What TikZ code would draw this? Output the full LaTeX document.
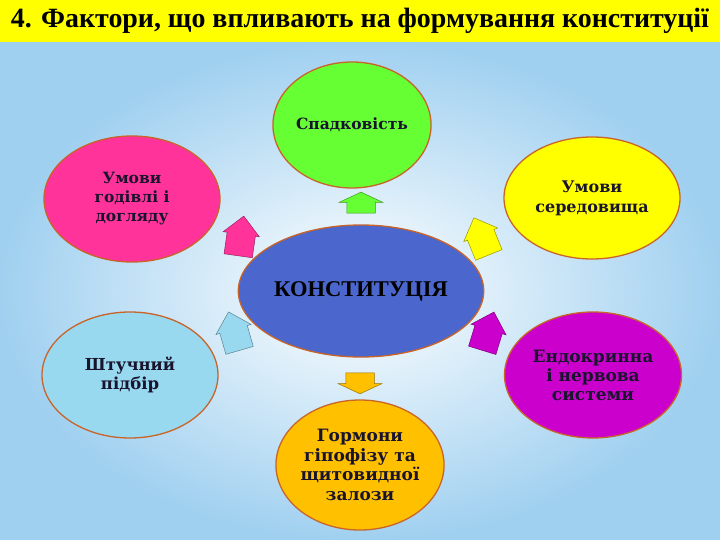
\documentclass[tikz,border=0pt]{standalone}
\usepackage{fontspec}
\setmainfont{Liberation Serif}
\newfontfamily\djv{DejaVu Serif}
\usetikzlibrary{shapes,shapes.arrows,shapes.geometric}
\definecolor{bgblue}{RGB}{160,208,240}
\definecolor{titleyel}{RGB}{255,255,0}
\definecolor{ellbord}{RGB}{200,100,40}
\definecolor{txt}{RGB}{25,20,45}
\definecolor{cgreen}{RGB}{102,255,51}
\definecolor{cpink}{RGB}{255,51,153}
\definecolor{cyellow}{RGB}{255,255,0}
\definecolor{cblue}{RGB}{75,102,204}
\definecolor{clight}{RGB}{153,217,240}
\definecolor{cmag}{RGB}{204,0,204}
\definecolor{corange}{RGB}{255,192,0}
\tikzset{factor/.style={ellipse, draw=ellbord, line width=1.3pt, inner sep=0pt,
align=center, text=txt, font=\djv\bfseries\fontsize{16.5}{19.5}\selectfont},
blk/.style={single arrow, draw=#1!60!black, fill=#1, line width=0.5pt,
inner xsep=0pt, inner ysep=14pt, minimum height=40pt, single arrow head extend=4pt},
flat/.style={minimum height=21pt, single arrow head extend=7.5pt,
single arrow tip angle=130}}

\begin{document}
\begin{tikzpicture}[x=1pt,y=-1pt]
    \useasboundingbox (0,0) rectangle (720,540);
    \shade [inner color=white, outer color=bgblue] (0,42) rectangle (720,540);
    \fill [titleyel] (0,0) rectangle (720,42);
    \node (title) at (360,21) {\fontsize{27.9}{30}\selectfont\bfseries
      4. Фактори, що впливають на формування конституції};

    \node (konst) [factor, fill=cblue, minimum width=238pt, minimum height=132pt,
      text=black, font=\bfseries\fontsize{22.5}{24}\selectfont] at (361,291) {КОНСТИТУЦІЯ};

    \node (spadk) [factor, fill=cgreen, minimum width=152pt, minimum height=126pt,
      font=\djv\bfseries\fontsize{15.5}{18}\selectfont] at (352,125) {Спадковість};
    \node (umovy_g) [factor, fill=cpink, minimum width=176pt, minimum height=126pt,
      font=\djv\bfseries\fontsize{15.5}{19}\selectfont] at (132,199) {Умови\\годівлі і\\догляду};
    \node (umovy_s) [factor, fill=cyellow, minimum width=176pt, minimum height=122pt,
      font=\djv\bfseries\fontsize{16}{20}\selectfont] at (592,198) {Умови\\середовища};
    \node (shtuch) [factor, fill=clight, minimum width=176pt, minimum height=126pt]
      at (130,375) {Штучний\\підбір};
    \node (endo) [factor, fill=cmag, minimum width=177pt, minimum height=126pt,
      font=\djv\bfseries\fontsize{17}{19}\selectfont] at (593,375) {Ендокринна\\і нервова\\системи};
    \node (gorm) [factor, fill=corange, minimum width=160pt, minimum height=130pt,
      font=\djv\bfseries\fontsize{17}{19.5}\selectfont] at (360,465)
      {Гормони\\гіпофізу та\\щитовидної\\залози};

    % arrows
    \node (a_spadk) [blk=cgreen, flat, rotate=90] at (361,206) {};
    \node (a_gorm) [blk=corange, flat, rotate=-90] at (360,380) {};
    \node (a_umovy_g) [blk=cpink, rotate=82] at (240,243) {};
    \node (a_umovy_s) [blk=cyellow, rotate=112] at (484,243) {};
    \node (a_shtuch) [blk=clight, rotate=106] at (236,338) {};
    \node (a_endo) [blk=cmag, rotate=73] at (486,338) {};

  \end{tikzpicture}
\end{document}
